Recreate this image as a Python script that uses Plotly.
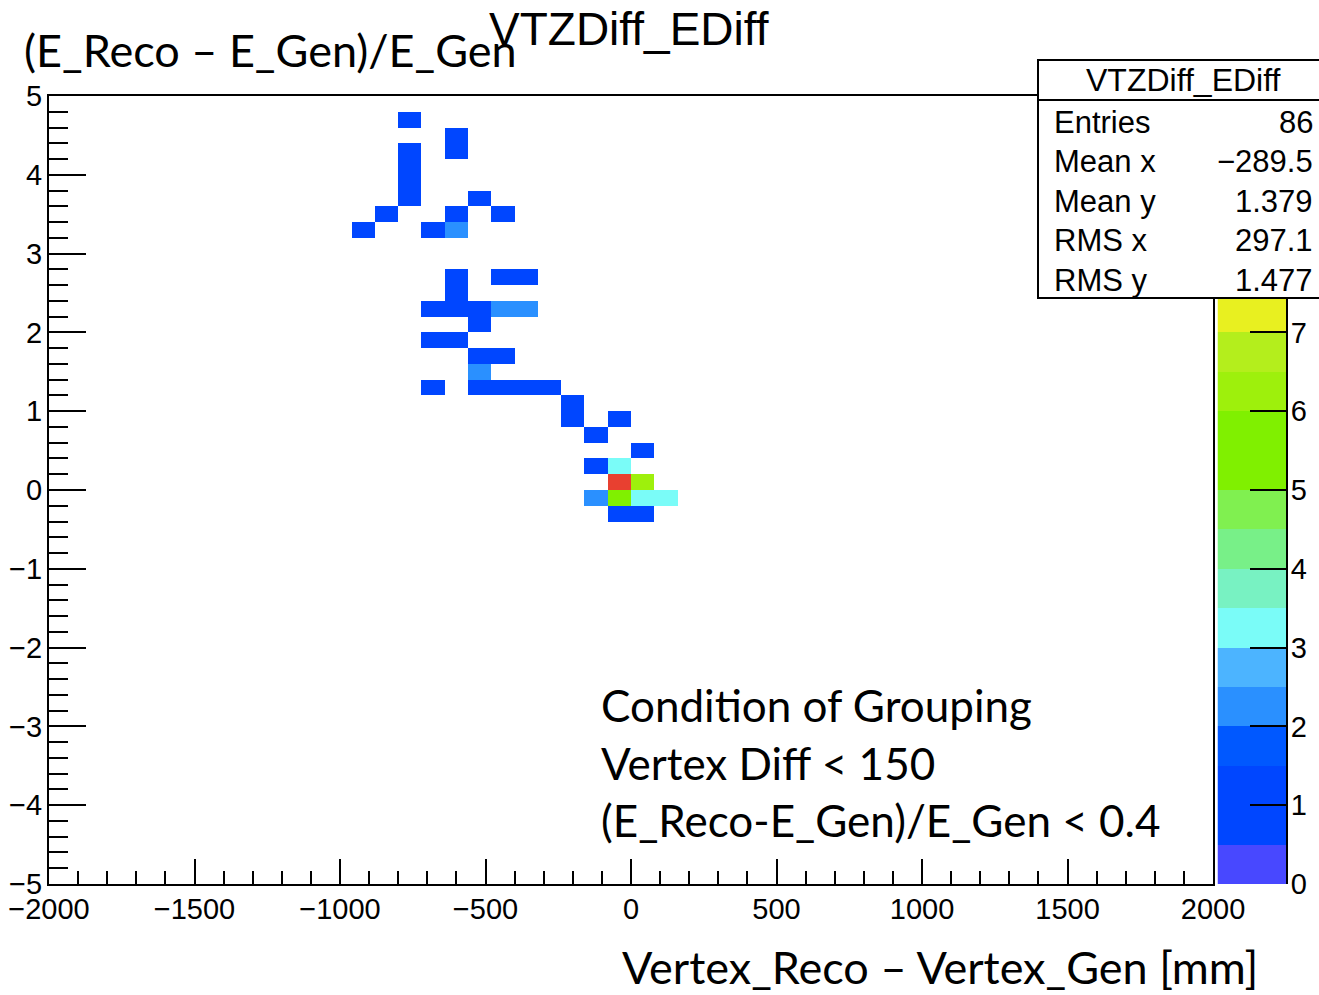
import numpy as np
import plotly.graph_objects as go

# ---------------- data ----------------
hist_name = "VTZDiff_EDiff"
x_min, x_max, n_xbins = -2000, 2000, 50
y_min, y_max, n_ybins = -5, 5, 50

# filled bins: bin-centre x [mm], bin-centre y, bin content
cell_x = [-760, -600, -600, -760, -760, -760, -760, -520, -840, -600, -440, -920, -680, -600,
          -600, -600, -680, -600, -520, -520, -440, -360, -440, -360,
          -680, -600, -520, -440, -520,
          -680, -520, -440, -360, -280,
          -200, -200, -40, -120, 40, -120, -40,
          -40, 40, -120, -40, 40, 120, -40, 40]
cell_y = [4.7, 4.5, 4.3, 4.3, 4.1, 3.9, 3.7, 3.7, 3.5, 3.5, 3.5, 3.3, 3.3, 3.3,
          2.7, 2.5, 2.3, 2.3, 2.3, 2.1, 2.7, 2.7, 2.3, 2.3,
          1.9, 1.9, 1.7, 1.7, 1.5,
          1.3, 1.3, 1.3, 1.3, 1.3,
          1.1, 0.9, 0.9, 0.7, 0.5, 0.3, 0.3,
          0.1, 0.1, -0.1, -0.1, -0.1, -0.1, -0.3, -0.3]
cell_n = [1, 1, 1, 1, 1, 1, 1, 1, 1, 1, 1, 1, 1, 2,
          1, 1, 1, 1, 1, 1, 1, 1, 2, 2,
          1, 1, 1, 1, 2,
          1, 1, 1, 1, 1,
          1, 1, 1, 1, 1, 1, 3,
          10, 6, 2, 5, 3, 3, 1, 1]

stat_labels = ["Entries", "Mean x", "Mean y", "RMS x", "RMS y"]
stat_values = ["86", "\u2212289.5", "1.379", "297.1", "1.477"]

z_min, z_max = 0, 10
# ROOT palette as seen on the colour bar (20 contour bands over 0..10)
band_colors = ["#4848ff", "#0046ff", "#0046ff", "#0058ff", "#2a90ff",
               "#4cb4ff", "#7afcf8", "#78f2c2", "#78f088", "#80f050",
               "#80f000", "#80f000", "#9ef00c", "#b4ee1c", "#e8f020",
               "#f0d020", "#f0a820", "#f08420", "#ee6024", "#e84030"]

x_ticks = [-2000, -1500, -1000, -500, 0, 500, 1000, 1500, 2000]
y_ticks = [-5, -4, -3, -2, -1, 0, 1, 2, 3, 4, 5]
z_ticks = [0, 1, 2, 3, 4, 5, 6, 7]

y_title = "(E_Reco \u2013 E_Gen)/E_Gen"
x_title = "Vertex_Reco \u2013 Vertex_Gen [mm]"
note_lines = ["Condition of Grouping", "Vertex Diff < 150", "(E_Reco-E_Gen)/E_Gen < 0.4"]

# ---------------- build histogram matrix ----------------
xw = (x_max - x_min) / n_xbins
yw = (y_max - y_min) / n_ybins
x_edges = np.linspace(x_min, x_max, n_xbins + 1)
y_edges = np.linspace(y_min, y_max, n_ybins + 1)
z = [[None] * n_xbins for _ in range(n_ybins)]
for cx, cy, n in zip(cell_x, cell_y, cell_n):
    i = int(np.floor((cx - x_min) / xw))
    j = int(np.floor((cy - y_min) / yw))
    z[j][i] = n

nb = len(band_colors)
colorscale = []
for k, c in enumerate(band_colors):
    colorscale.append([k / nb, c])
    colorscale.append([1.0 if k == nb - 1 else (k + 1) / nb - 1e-6, c])

band_edges = np.linspace(z_min, z_max, nb + 1)
band_mid = [[(band_edges[k] + band_edges[k + 1]) / 2] for k in range(nb)]

# ---------------- layout geometry (pixels) ----------------
W, H = 1319, 995
L, R, T, B = 49, 33, 96, 111
PW, PH = W - L - R, H - T - B


def px(x):
    return (x - L) / PW


def py(y):
    return (H - B - y) / PH


FONT_ROOT = "Liberation Sans, Arial, sans-serif"
FONT_PPT = "Lato, Noto Sans, sans-serif"

fig = go.Figure()
fig.add_trace(go.Heatmap(
    x=x_edges, y=y_edges, z=z, zmin=z_min, zmax=z_max,
    colorscale=colorscale, showscale=False, hoverongaps=False,
    xaxis="x", yaxis="y"))
fig.add_trace(go.Heatmap(
    x=[0, 1], y=band_edges, z=band_mid, zmin=z_min, zmax=z_max,
    colorscale=colorscale, showscale=False, hoverinfo="skip",
    xaxis="x2", yaxis="y2"))

tickfont = dict(family=FONT_ROOT, size=29, color="black")
fig.update_layout(
    width=W, height=H, autosize=False,
    margin=dict(l=L, r=R, t=T, b=B, pad=0, autoexpand=False),
    paper_bgcolor="white", plot_bgcolor="white",
    showlegend=False,
    xaxis=dict(domain=[0, px(1213)], range=[x_min, x_max], tickvals=x_ticks,
               ticks="inside", ticklen=25, tickwidth=2, tickcolor="black",
               minor=dict(dtick=100, ticks="inside", ticklen=13, tickwidth=2, tickcolor="black"),
               showline=True, linecolor="black", linewidth=2, mirror=True,
               showgrid=False, zeroline=False, tickfont=tickfont,
               ticklabelstandoff=-2, automargin=False),
    yaxis=dict(domain=[0, 1], range=[y_min, y_max], tickvals=y_ticks,
               ticks="inside", ticklen=37, tickwidth=2, tickcolor="black",
               minor=dict(dtick=0.2, ticks="inside", ticklen=19, tickwidth=2, tickcolor="black"),
               showline=True, linecolor="black", linewidth=2, mirror=True,
               showgrid=False, zeroline=False, tickfont=tickfont,
               ticklabelstandoff=-1, automargin=False),
    xaxis2=dict(domain=[px(1217.5), 1.0], range=[0, 1], visible=False, anchor="y2",
                automargin=False),
    yaxis2=dict(domain=[0, 1], range=[z_min, z_max], anchor="x2", side="right",
                tickvals=z_ticks, ticks="inside", ticklen=36, tickwidth=2, tickcolor="black",
                showline=True, linecolor="black", linewidth=2,
                showgrid=False, zeroline=False, tickfont=tickfont,
                ticklabelstandoff=-3, automargin=False),
)

# stats box
fig.add_shape(type="rect", xref="paper", yref="paper",
              x0=px(1038), x1=px(1330), y0=py(298), y1=py(60),
              line=dict(color="black", width=2), fillcolor="white", layer="above")
fig.add_shape(type="line", xref="paper", yref="paper",
              x0=px(1038), x1=px(1330), y0=py(100), y1=py(100),
              line=dict(color="black", width=2), layer="above")

ann = []
ann.append(dict(text=hist_name, x=px(1183), y=py(80), xanchor="center", yanchor="middle",
                font=dict(family=FONT_ROOT, size=32, color="black")))
for k, (lab, val) in enumerate(zip(stat_labels, stat_values)):
    yy = py(122 + 39.5 * k)
    ann.append(dict(text=lab, x=px(1052), y=yy, xanchor="left", yanchor="middle",
                    font=dict(family=FONT_ROOT, size=31, color="black")))
    ann.append(dict(text=val, x=px(1315), y=yy, xanchor="right", yanchor="middle",
                    font=dict(family=FONT_ROOT, size=31, color="black")))
# histogram title
ann.append(dict(text=hist_name, x=px(629), y=py(29), xanchor="center", yanchor="middle",
                font=dict(family=FONT_ROOT, size=46, color="black")))
# axis titles (added as text boxes in the original)
ann.append(dict(text=y_title, x=px(22), y=py(50), xanchor="left", yanchor="middle",
                font=dict(family=FONT_PPT, size=45, color="black")))
ann.append(dict(text=x_title, x=px(620), y=py(967), xanchor="left", yanchor="middle",
                font=dict(family=FONT_PPT, size=45, color="black")))
for k, line in enumerate(note_lines):
    ann.append(dict(text=line, x=px(599), y=py(705 + 57.5 * k), xanchor="left", yanchor="middle",
                    font=dict(family=FONT_PPT, size=44, color="black")))
for a in ann:
    a.update(xref="paper", yref="paper", showarrow=False)
fig.update_layout(annotations=ann)

fig.write_html(
    "out.html",
    config={"displayModeBar": False},
    post_script="document.body.style.margin='0px';document.body.style.overflow='hidden';",
)
